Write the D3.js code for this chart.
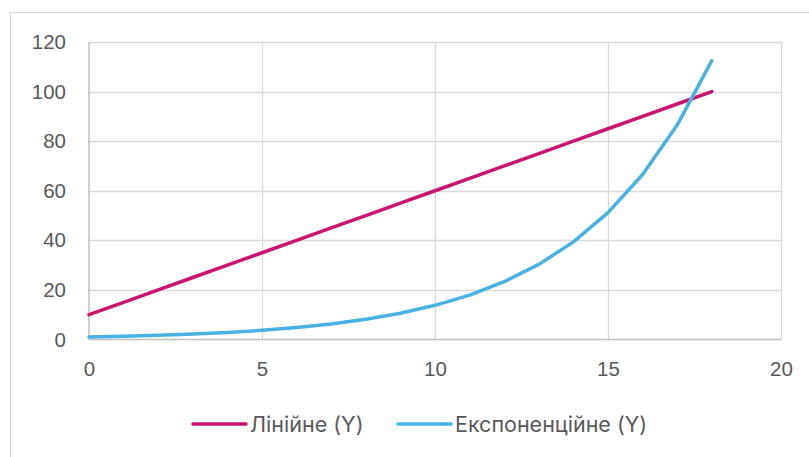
<!DOCTYPE html>
<html>
<head>
<meta charset="utf-8">
<script src="https://cdn.jsdelivr.net/npm/d3@7"></script>
<style>
  html, body { margin: 0; padding: 0; background: #fff; }
  svg { display: block; }
</style>
</head>
<body>
<svg id="chart" width="809" height="457"></svg>
<script>
// Data: x values and the two series
const xValues = [0, 1, 2, 3, 4, 5, 6, 7, 8, 9, 10, 11, 12, 13, 14, 15, 16, 17, 18];
const linearY = [10, 15, 20, 25, 30, 35, 40, 45, 50, 55, 60, 65, 70, 75, 80, 85, 90, 95, 100];
const expY = [1, 1.3, 1.69, 2.2, 2.86, 3.71, 4.83, 6.27, 8.16, 10.6, 13.79, 17.92, 23.3, 30.29, 39.37, 51.19, 66.54, 86.5, 112.46];
const xTicks = [0, 5, 10, 15, 20];
const yTicks = [0, 20, 40, 60, 80, 100, 120];
const seriesNames = ["Лінійне (Y)", "Експоненційне (Y)"];
const seriesColors = ["#CB1470", "#48B2E2"];

const svg = d3.select("#chart");

// Chart frame
svg.append("rect")
  .attr("x", 10.5).attr("y", 12.5)
  .attr("width", 820).attr("height", 460)
  .attr("fill", "#fff").attr("stroke", "#d9d9d9").attr("stroke-width", 1);

const x = d3.scaleLinear().domain([0, 20]).range([89, 781]);
const y = d3.scaleLinear().domain([0, 120]).range([339.5, 42]);

// Gridlines
const grid = svg.append("g");
grid.selectAll("line.h").data(yTicks.filter(d => d > 0)).join("line")
  .attr("x1", x(0)).attr("x2", x(20))
  .attr("y1", d => Math.round(y(d)) + 0.5).attr("y2", d => Math.round(y(d)) + 0.5)
  .attr("stroke", "#d9d9d9").attr("stroke-width", 1.3);
grid.selectAll("line.v").data(xTicks.filter(d => d > 0)).join("line")
  .attr("y1", y(0)).attr("y2", y(120))
  .attr("x1", d => Math.round(x(d)) + 0.5).attr("x2", d => Math.round(x(d)) + 0.5)
  .attr("stroke", "#d9d9d9").attr("stroke-width", 1.3);

// Axis lines (x = 0 and y = 0)
svg.append("line")
  .attr("x1", x(0)).attr("x2", x(0)).attr("y1", y(0)).attr("y2", y(120))
  .attr("stroke", "#bfbfbf").attr("stroke-width", 1.5);
svg.append("line")
  .attr("x1", x(0)).attr("x2", x(20)).attr("y1", y(0)).attr("y2", y(0))
  .attr("stroke", "#bfbfbf").attr("stroke-width", 1.5);

// Tick labels via D3 axes
const yAxis = d3.axisLeft(y).tickValues(yTicks).tickSize(0).tickPadding(23);
const xAxis = d3.axisBottom(x).tickValues(xTicks).tickSize(0).tickPadding(22);

const gy = svg.append("g").attr("transform", `translate(${x(0)},0)`).call(yAxis);
const gx = svg.append("g").attr("transform", `translate(0,${y(0)})`).call(xAxis);
[gx, gy].forEach(g => {
  g.select(".domain").remove();
  g.selectAll("text")
    .attr("fill", "#595959")
    .style("font-family", "'Liberation Sans', Arial, sans-serif")
    .style("font-size", "20.5px");
});

// Series lines (straight segments between points)
const line = d3.line().x((d, i) => x(xValues[i])).y(d => y(d));
[linearY, expY].forEach((vals, i) => {
  svg.append("path")
    .datum(vals)
    .attr("d", line)
    .attr("fill", "none")
    .attr("stroke", seriesColors[i])
    .attr("stroke-width", 3.5)
    .attr("stroke-linecap", "round")
    .attr("stroke-linejoin", "round");
});

// Legend
const legendItems = [
  { name: seriesNames[0], color: seriesColors[0], x0: 193 },
  { name: seriesNames[1], color: seriesColors[1], x0: 398 }
];
const legend = svg.append("g");
legendItems.forEach(it => {
  legend.append("line")
    .attr("x1", it.x0).attr("x2", it.x0 + 53)
    .attr("y1", 424).attr("y2", 424)
    .attr("stroke", it.color).attr("stroke-width", 3.5)
    .attr("stroke-linecap", "round");
  legend.append("text")
    .attr("x", it.x0 + 57).attr("y", 424)
    .attr("dy", "0.35em")
    .attr("fill", "#595959")
    .style("font-family", "Inter, Roboto, sans-serif")
    .style("font-size", "21.5px")
    .text(it.name);
});
</script>
</body>
</html>
